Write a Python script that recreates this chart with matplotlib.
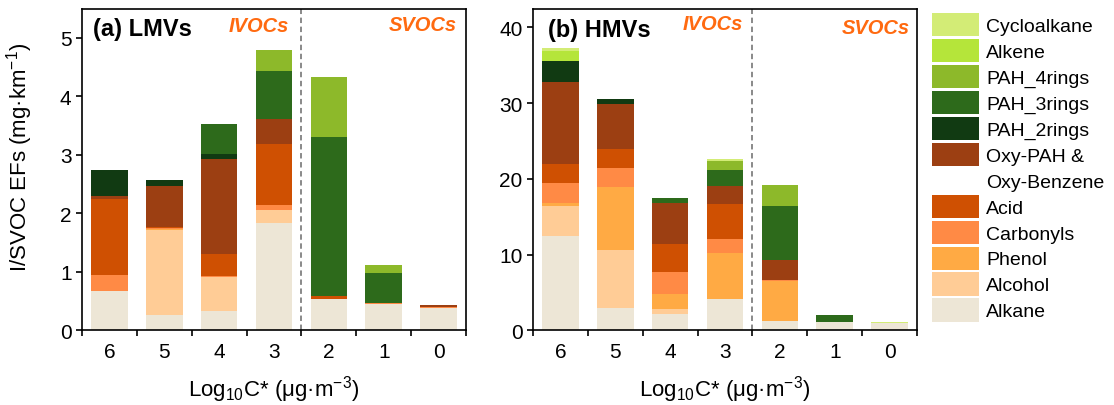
import numpy as np
import matplotlib
matplotlib.use("Agg")
import matplotlib.pyplot as plt
from matplotlib.patches import Patch

plt.rcParams["font.family"] = ["Liberation Sans", "DejaVu Sans"]
plt.rcParams["mathtext.fontset"] = "custom"
plt.rcParams["mathtext.rm"] = "Liberation Sans"
plt.rcParams["mathtext.it"] = "Liberation Sans:italic"

# volatility bins, left to right
bins = ["6", "5", "4", "3", "2", "1", "0"]

# compound groups, bottom to top of each stack
groups = ["Alkane", "Alcohol", "Phenol", "Carbonyls", "Acid", "Oxy-PAH &",
          "PAH_2rings", "PAH_3rings", "PAH_4rings", "Alkene", "Cycloalkane"]
colors = ["#EDE6D6", "#FFCC96", "#FFAA44", "#FF8A45", "#CF5002", "#9C3F12",
          "#113A12", "#2D6A1B", "#8DB92A", "#B5E53A", "#D3EC76"]

# (a) LMVs, mg/km, one list per group (bins 6..0)
lmv_alkane = [0.68, 0.26, 0.34, 1.83, 0.53, 0.46, 0.39]
lmv_alcohol = [0.0, 1.46, 0.575, 0.23, 0.0, 0.0, 0.0]
lmv_phenol = [0.0, 0.01, 0.0, 0.0, 0.0, 0.0, 0.0]
lmv_carbonyls = [0.275, 0.02, 0.01, 0.09, 0.01, 0.01, 0.01]
lmv_acid = [1.29, 0.02, 0.39, 1.04, 0.045, 0.0, 0.0]
lmv_oxy = [0.05, 0.70, 1.615, 0.43, 0.0, 0.0, 0.03]
lmv_pah2 = [0.45, 0.10, 0.08, 0.0, 0.0, 0.0, 0.0]
lmv_pah3 = [0.0, 0.0, 0.52, 0.81, 2.715, 0.52, 0.0]
lmv_pah4 = [0.0, 0.0, 0.0, 0.37, 1.03, 0.13, 0.0]
lmv_alkene = [0.0, 0.0, 0.0, 0.0, 0.0, 0.0, 0.0]
lmv_cyclo = [0.0, 0.0, 0.0, 0.0, 0.0, 0.0, 0.0]

# (b) HMVs
hmv_alkane = [12.42, 3.0, 2.2, 4.19, 1.19, 1.1, 0.97]
hmv_alcohol = [4.0, 7.62, 0.66, 0.0, 0.0, 0.0, 0.0]
hmv_phenol = [0.45, 8.28, 1.99, 6.07, 5.37, 0.0, 0.0]
hmv_carbonyls = [2.6, 2.6, 2.82, 1.77, 0.14, 0.0, 0.0]
hmv_acid = [2.47, 2.5, 3.78, 4.71, 0.0, 0.0, 0.0]
hmv_oxy = [10.88, 5.87, 5.38, 2.38, 2.64, 0.0, 0.0]
hmv_pah2 = [2.82, 0.73, 0.0, 0.0, 0.0, 0.0, 0.0]
hmv_pah3 = [0.0, 0.0, 0.61, 2.11, 7.14, 0.97, 0.0]
hmv_pah4 = [0.0, 0.0, 0.0, 1.1, 2.68, 0.0, 0.0]
hmv_alkene = [1.32, 0.0, 0.0, 0.0, 0.0, 0.0, 0.0]
hmv_cyclo = [0.35, 0.0, 0.0, 0.36, 0.09, 0.0, 0.13]

lmv = [lmv_alkane, lmv_alcohol, lmv_phenol, lmv_carbonyls, lmv_acid, lmv_oxy,
       lmv_pah2, lmv_pah3, lmv_pah4, lmv_alkene, lmv_cyclo]
hmv = [hmv_alkane, hmv_alcohol, hmv_phenol, hmv_carbonyls, hmv_acid, hmv_oxy,
       hmv_pah2, hmv_pah3, hmv_pah4, hmv_alkene, hmv_cyclo]

orange = "#FF6A10"

fig = plt.figure(figsize=(11.14, 4.06), dpi=100)
ax1 = fig.add_axes([0.0736, 0.1835, 0.3447, 0.793])
ax2 = fig.add_axes([0.4785, 0.1835, 0.3447, 0.793])


def stack(ax, data, ymax, yticks):
    x = np.arange(len(bins))
    bottom = np.zeros(len(bins))
    for vals, c in zip(data, colors):
        vals = np.array(vals)
        ax.bar(x, vals, width=0.667, bottom=bottom, color=c, linewidth=0)
        bottom += vals
    ax.axvline(3.5, color="#808080", linestyle=(0, (3, 2)), linewidth=1.3)
    ax.set_xlim(-0.5, 6.5)
    ax.set_ylim(0, ymax)
    ax.set_xticks(x)
    ax.set_xticklabels(bins)
    ax.set_xticks(np.arange(-0.5, 7.0, 1.0), minor=True)
    ax.tick_params(axis="x", which="major", length=0, pad=8, labelsize=15)
    ax.tick_params(axis="x", which="minor", direction="out", length=4, width=1.2)
    ax.set_yticks(yticks)
    ax.tick_params(axis="y", direction="out", length=4, width=1.2, labelsize=15)
    for s in ax.spines.values():
        s.set_linewidth(1.2)
    ax.set_xlabel("Log$_{10}$C* (μg·m$^{-3}$)", fontsize=16, labelpad=9)


stack(ax1, lmv, 5.5, [0, 1, 2, 3, 4, 5])
stack(ax2, hmv, 42.5, [0, 10, 20, 30, 40])
ax1.set_ylabel("I/SVOC EFs (mg·km$^{-1}$)", fontsize=16)
ax1.yaxis.set_label_coords(-0.122, 0.54)

ax1.text(0.029, 0.938, "(a) LMVs", transform=ax1.transAxes, fontsize=17,
         fontweight="bold", va="center", ha="left")
ax1.text(0.539, 0.947, "IVOCs", transform=ax1.transAxes, fontsize=14.5,
         fontweight="bold", style="italic", color=orange, va="center", ha="right")
ax1.text(0.977, 0.949, "SVOCs", transform=ax1.transAxes, fontsize=14.5,
         fontweight="bold", style="italic", color=orange, va="center", ha="right")
ax2.text(0.039, 0.936, "(b) HMVs", transform=ax2.transAxes, fontsize=17,
         fontweight="bold", va="center", ha="left")
ax2.text(0.548, 0.952, "IVOCs", transform=ax2.transAxes, fontsize=14.5,
         fontweight="bold", style="italic", color=orange, va="center", ha="right")
ax2.text(0.982, 0.94, "SVOCs", transform=ax2.transAxes, fontsize=14.5,
         fontweight="bold", style="italic", color=orange, va="center", ha="right")

# legend, top entry first; blank handle carries the second line of Oxy label
handles = []
labels = []
for g, c in zip(groups[::-1], colors[::-1]):
    handles.append(Patch(facecolor=c, edgecolor="none"))
    labels.append(g)
    if g == "Oxy-PAH &":
        handles.append(Patch(facecolor="none", edgecolor="none"))
        labels.append("Oxy-Benzene")
fig.legend(handles, labels, loc="upper left", bbox_to_anchor=(0.8366, 0.966),
           frameon=False, fontsize=14, borderpad=0, borderaxespad=0,
           handlelength=2.42, handleheight=1.447, labelspacing=0.15,
           handletextpad=0.36)

fig.savefig("out.png", dpi=100)
